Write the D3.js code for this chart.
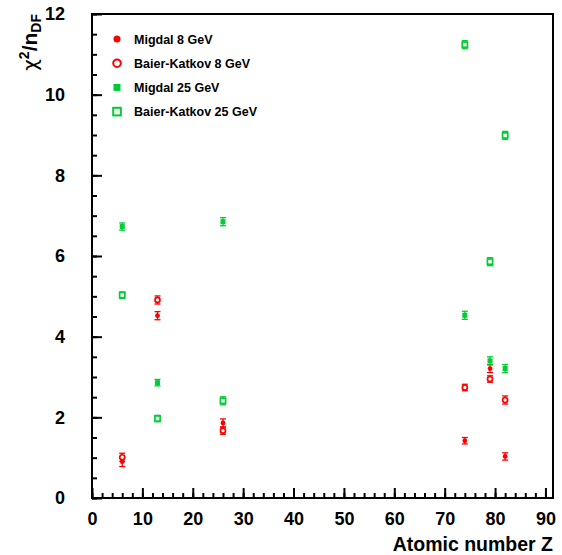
<!DOCTYPE html>
<html><head><meta charset="utf-8">
<script src="https://cdn.jsdelivr.net/npm/d3@7"></script>
<style>
body{margin:0;background:#fff;}
svg{display:block;font-family:"Liberation Sans",Arial,sans-serif;}
</style></head>
<body><svg id="c" width="562" height="555"></svg>
<script>
const Z = [6, 13, 26, 74, 79, 82];
const migdal8 = [0.90, 4.52, 1.86, 1.42, 3.21, 1.03];
const migdal8Err = [0.12, 0.10, 0.10, 0.08, 0.10, 0.09];
const bk8 = [1.01, 4.91, 1.67, 2.74, 2.95, 2.43];
const bk8Err = [0.10, 0.10, 0.09, 0.08, 0.08, 0.10];
const migdal25 = [6.73, 2.86, 6.85, 4.53, 3.40, 3.21];
const migdal25Err = [0.09, 0.08, 0.10, 0.10, 0.10, 0.10];
const bk25 = [5.03, 1.97, 2.41, 11.24, 5.86, 8.99];
const bk25Err = [0.08, 0.08, 0.10, 0.10, 0.10, 0.10];
const seriesNames = ["Migdal 8 GeV", "Baier-Katkov 8 GeV", "Migdal 25 GeV", "Baier-Katkov 25 GeV"];
const xTicks = [0,10,20,30,40,50,60,70,80,90];
const yTicks = [0,2,4,6,8,10,12];

const RED = "#ff0000", GREEN = "#00cc33";
const series = [
  {name: seriesNames[0], vals: migdal8, err: migdal8Err, color: RED, shape: "circle", fill: true},
  {name: seriesNames[1], vals: bk8, err: bk8Err, color: RED, shape: "circle", fill: false},
  {name: seriesNames[2], vals: migdal25, err: migdal25Err, color: GREEN, shape: "square", fill: true},
  {name: seriesNames[3], vals: bk25, err: bk25Err, color: GREEN, shape: "square", fill: false}
];

const svg = d3.select("#c");
const L = 92, R = 553, T = 14, B = 498;
const x = d3.scaleLinear().domain([0, 91.5]).range([L, R]);
const y = d3.scaleLinear().domain([0, 12]).range([B, T]);

// minor ticks
svg.append("g").attr("transform", `translate(${L},0)`)
  .call(d3.axisLeft(y).tickValues(d3.range(0, 12.01, 0.5)).tickSize(-5).tickFormat(""))
  .call(g => { g.select(".domain").remove(); g.selectAll("line").attr("stroke", "#000").attr("stroke-width", 2); });
svg.append("g").attr("transform", `translate(0,${B})`)
  .call(d3.axisBottom(x).tickValues(d3.range(0, 91, 2)).tickSize(-5).tickFormat(""))
  .call(g => { g.select(".domain").remove(); g.selectAll("line").attr("stroke", "#000").attr("stroke-width", 2); });
// major ticks + labels
svg.append("g").attr("transform", `translate(${L},0)`)
  .call(d3.axisLeft(y).tickValues(yTicks).tickSize(-10).tickPadding(27).tickFormat(d3.format("d")))
  .call(g => {
    g.select(".domain").remove();
    g.selectAll("line").attr("stroke", "#000").attr("stroke-width", 2);
    g.selectAll("text").attr("fill", "#000").style("font-size", "18px").style("font-weight", "bold")
      .style("font-family", "'Liberation Sans',Arial,sans-serif");
  });
svg.append("g").attr("transform", `translate(0,${B})`)
  .call(d3.axisBottom(x).tickValues(xTicks).tickSize(-10).tickPadding(14).tickFormat(d3.format("d")))
  .call(g => {
    g.select(".domain").remove();
    g.selectAll("line").attr("stroke", "#000").attr("stroke-width", 2);
    g.selectAll("text").attr("fill", "#000").style("font-size", "18px").style("font-weight", "bold")
      .style("font-family", "'Liberation Sans',Arial,sans-serif");
  });

// frame
svg.append("rect").attr("x", L).attr("y", T).attr("width", R - L).attr("height", B - T)
  .attr("fill", "none").attr("stroke", "#000").attr("stroke-width", 2);

// axis titles
svg.append("text").attr("x", R).attr("y", 551).attr("text-anchor", "end")
  .style("font-size", "19.5px").style("font-weight", "bold").text("Atomic number Z");
const yt = svg.append("text").attr("transform", "translate(37,14) rotate(-90)").attr("text-anchor", "end")
  .style("font-size", "21px").style("font-weight", "bold");
yt.append("tspan").style("font-family", "'DejaVu Sans',sans-serif").style("font-weight", "normal").style("font-size", "20px").text("χ");
yt.append("tspan").attr("dy", -8).style("font-size", "14px").text("2");
yt.append("tspan").attr("dy", 8).text("/n");
yt.append("tspan").attr("dy", 4).style("font-size", "14px").text("DF");

function drawMarker(g, s, cx, cy, big) {
  const sw = big ? 2 : 1.7;
  if (s.shape === "circle") {
    const r = s.fill ? (big ? 3.5 : 2.4) : (big ? 3.8 : 2.5);
    g.append("circle").attr("cx", cx).attr("cy", cy).attr("r", r)
      .attr("fill", s.fill ? s.color : "#fff").attr("stroke", s.fill ? "none" : s.color).attr("stroke-width", sw);
  } else {
    const h = s.fill ? (big ? 3.5 : 2.5) : (big ? 3.8 : 2.6);
    g.append("rect").attr("x", cx - h).attr("y", cy - h).attr("width", 2 * h).attr("height", 2 * h)
      .attr("fill", s.fill ? s.color : "#fff").attr("stroke", s.fill ? "none" : s.color).attr("stroke-width", sw);
  }
}

// data
series.forEach(s => {
  const g = svg.append("g");
  Z.forEach((z, i) => {
    const cx = x(z), y1 = y(s.vals[i] + s.err[i]), y0 = y(s.vals[i] - s.err[i]);
    g.append("line").attr("x1", cx).attr("x2", cx).attr("y1", y0).attr("y2", y1).attr("stroke", s.color).attr("stroke-width", 1.3);
    [y0, y1].forEach(yy => g.append("line").attr("x1", cx - 3).attr("x2", cx + 3).attr("y1", yy).attr("y2", yy)
      .attr("stroke", s.color).attr("stroke-width", 1.3));
  });
  Z.forEach((z, i) => drawMarker(g, s, x(z), y(s.vals[i]), false));
});

// legend
series.forEach((s, i) => {
  const ly = 39 + i * 24.2;
  const g = svg.append("g");
  drawMarker(g, s, 117, ly, true);
  g.append("text").attr("x", 134).attr("y", ly).attr("dy", "0.36em")
    .style("font-size", "12.5px").style("font-weight", "bold").text(s.name);
});
</script></body></html>
